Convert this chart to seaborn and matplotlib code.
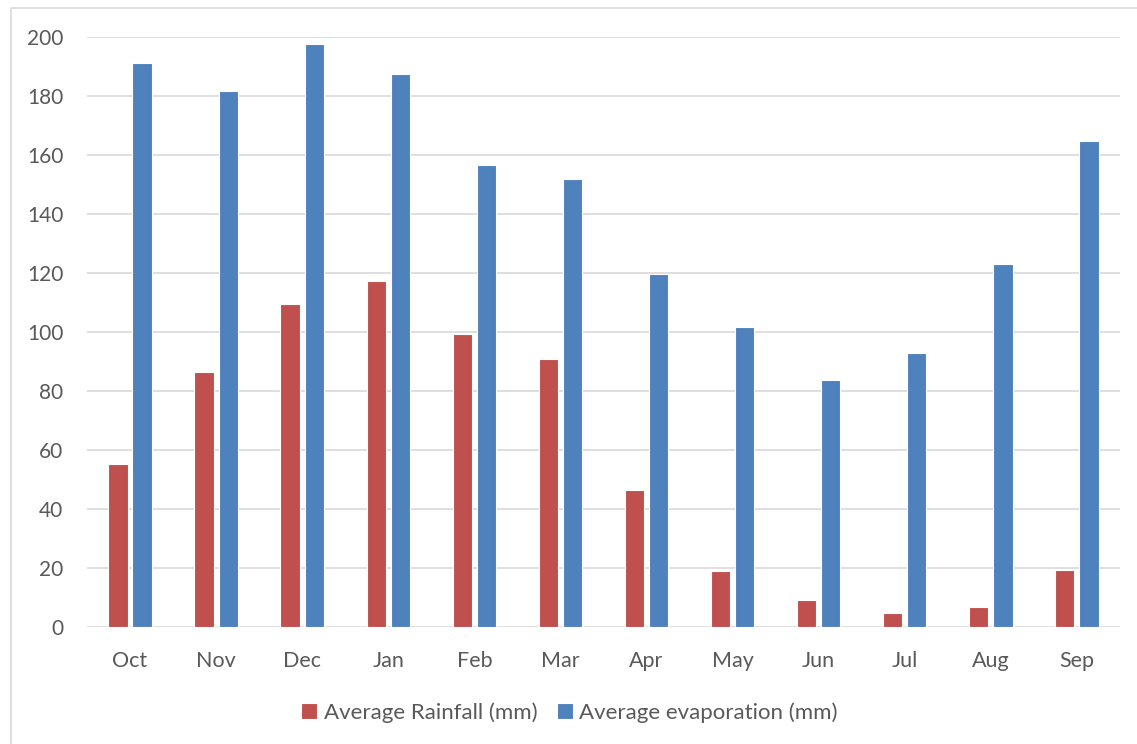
import matplotlib
matplotlib.use("Agg")
import matplotlib.pyplot as plt
from matplotlib.patches import Rectangle
import pandas as pd
import seaborn as sns

months = ["Oct", "Nov", "Dec", "Jan", "Feb", "Mar", "Apr", "May", "Jun", "Jul", "Aug", "Sep"]
rainfall = [55.3, 86.4, 109.5, 117.3, 99.3, 90.8, 46.4, 19.0, 9.2, 4.7, 6.8, 19.3]
evaporation = [191.2, 181.7, 197.6, 187.5, 156.6, 151.9, 119.7, 101.7, 83.7, 92.9, 123.1, 164.7]
series_names = ["Average Rainfall (mm)", "Average evaporation (mm)"]
y_ticks = [0, 20, 40, 60, 80, 100, 120, 140, 160, 180, 200]

df = pd.DataFrame({
    "Month": months * 2,
    "Value": rainfall + evaporation,
    "Series": [series_names[0]] * len(months) + [series_names[1]] * len(months),
})

sns.set_theme(style="white")
plt.rcParams["font.family"] = ["Lato", "DejaVu Sans"]

text_color = "#595959"
grid_color = "#d9d9d9"
palette = {series_names[0]: "#C0504D", series_names[1]: "#4F81BD"}

fig = plt.figure(figsize=(11.37, 7.44), dpi=100)
ax = fig.add_axes([0.0765, 0.157, 0.9085, 0.793])

sns.barplot(data=df, x="Month", y="Value", hue="Series", order=months,
            hue_order=series_names, palette=palette, width=0.56, gap=0.2,
            saturation=1, edgecolor="white", linewidth=0.8, ax=ax)

ax.set_ylim(0, 200)
ax.set_xlim(-0.5, len(months) - 0.5)
ax.set_yticks(y_ticks)
ax.yaxis.grid(True, color=grid_color, linewidth=1.2)
ax.set_axisbelow(True)
for s in ax.spines.values():
    s.set_visible(False)
ax.set_xlabel("")
ax.set_ylabel("")
ax.tick_params(axis="y", length=0, pad=17, labelsize=15, labelcolor=text_color)
ax.tick_params(axis="x", length=0, pad=17, labelsize=15.5, labelcolor=text_color)

handles, labels = ax.get_legend_handles_labels()
ax.get_legend().remove()
fig.legend(handles, labels, loc="center", bbox_to_anchor=(0.501, 0.042), ncol=2,
           frameon=False, fontsize=16, labelcolor=text_color, handlelength=0.7,
           handleheight=0.7, handletextpad=0.3, columnspacing=0.9)

# Light chart-area frame
fig.patches.append(Rectangle((11 / 1137, -0.05), 1.2, 1 - 8 / 744 + 0.05,
                             transform=fig.transFigure, fill=False,
                             edgecolor=grid_color, linewidth=1.2))

fig.savefig("out.png", dpi=100, facecolor="white")
